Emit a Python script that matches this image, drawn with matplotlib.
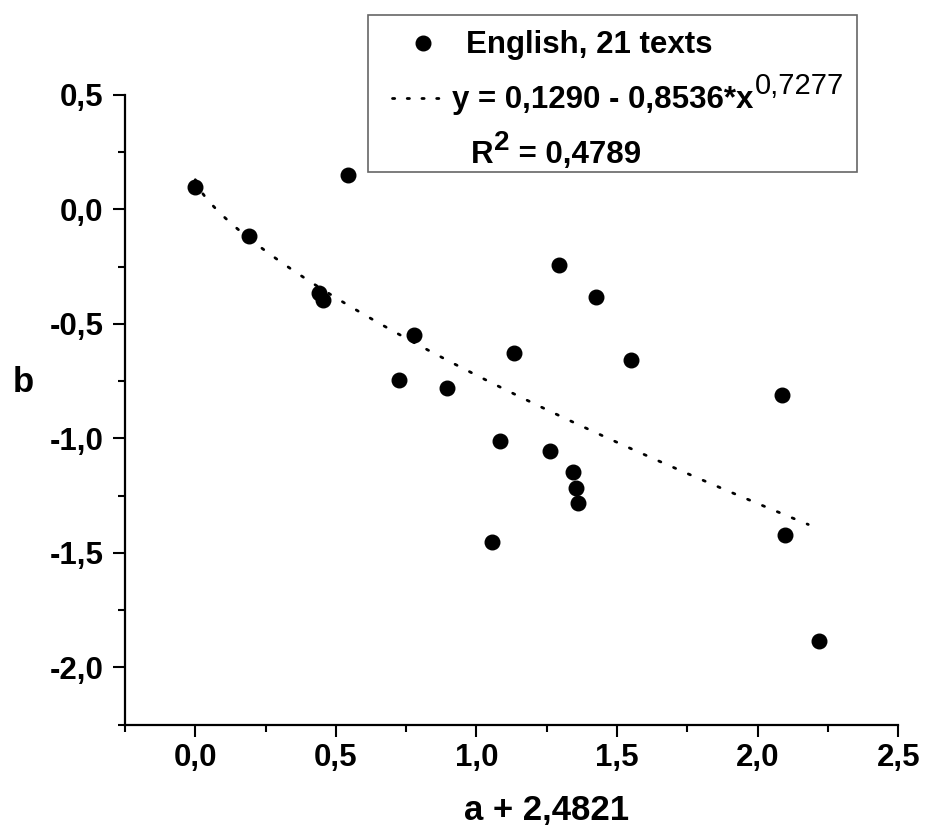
import numpy as np
import matplotlib
matplotlib.use('Agg')
import matplotlib.pyplot as plt
from matplotlib.lines import Line2D
from matplotlib.patches import Rectangle
from matplotlib.text import Annotation
from matplotlib.ticker import MultipleLocator, FuncFormatter

plt.rcParams['font.family'] = ['Liberation Sans', 'DejaVu Sans']
plt.rcParams['font.weight'] = 'bold'

# data (21 texts)
x_vals = [0.000, 0.190, 0.441, 0.454, 0.544, 0.779, 0.725, 0.896, 1.132, 1.293, 1.424,
          1.549, 2.086, 1.082, 1.262, 1.343, 1.353, 1.361, 1.056, 2.098, 2.220]
y_vals = [0.095, -0.115, -0.366, -0.394, 0.150, -0.548, -0.744, -0.781, -0.626, -0.244, -0.382,
          -0.660, -0.813, -1.011, -1.054, -1.149, -1.217, -1.283, -1.451, -1.421, -1.883]

# fitted curve y = c0 - c1 * x^p (as written in the legend)
fit_c0 = 0.1290
fit_c1 = 0.8536
fit_p = 0.7277
fit_x_end = 2.18

series_label = 'English, 21 texts'
fit_main = 'y = 0,1290 - 0,8536*x'
fit_exp = '0,7277'
r2_main = ' = 0,4789'

W, H = 926, 825


def comma_fmt(v, pos):
    return f'{v:.1f}'.replace('.', ',').replace('\u2212', '-')


def fx(px):
    return px / W


def fy(py):
    return 1 - py / H


def chain(text, anchor, dx, dy, **kw):
    # text placed after the right edge of another text, shifted in points
    a = Annotation(text, xy=(1, 0), xycoords=anchor, xytext=(dx, dy),
                   textcoords='offset points', ha='left', va='bottom',
                   annotation_clip=False, zorder=5, **kw)
    fig.add_artist(a)
    return a


fig = plt.figure(figsize=(W / 100, H / 100), dpi=100)
ax = fig.add_axes([0.135, 0.1216, 0.835, 0.7636])

ax.scatter(x_vals, y_vals, s=110, color='black', zorder=3)

xf = np.linspace(0, fit_x_end, 200)
yf = fit_c0 - fit_c1 * xf ** fit_p
ax.plot(xf, yf, color='black', linewidth=2, linestyle=(0, (0.8, 5)), dash_capstyle='round')

ax.set_xlim(-0.25, 2.5)
ax.set_ylim(-2.25, 0.5)

for side in ['top', 'right']:
    ax.spines[side].set_visible(False)
for side in ['left', 'bottom']:
    ax.spines[side].set_linewidth(1.6)

ax.xaxis.set_major_locator(MultipleLocator(0.5))
ax.xaxis.set_minor_locator(MultipleLocator(0.25))
ax.yaxis.set_major_locator(MultipleLocator(0.5))
ax.yaxis.set_minor_locator(MultipleLocator(0.25))
ax.xaxis.set_major_formatter(FuncFormatter(comma_fmt))
ax.yaxis.set_major_formatter(FuncFormatter(comma_fmt))
ax.tick_params(which='major', length=8.5, width=1.5, labelsize=22.5)
ax.tick_params(axis='y', which='major', pad=7)
ax.tick_params(axis='x', which='major', pad=5)
ax.tick_params(which='minor', length=4.8, width=1.5)

ax.set_xlabel('a + 2,4821', fontsize=25, fontweight='bold', va='baseline')
ax.xaxis.set_label_coords(0.545, -0.151)
ax.set_ylabel('b', fontsize=25, fontweight='bold', rotation=0, ha='center', va='baseline')
ax.yaxis.set_label_coords(-0.132, 0.528)

# legend box drawn by hand to match the original layout
fig.add_artist(Rectangle((fx(368), fy(172)), fx(857) - fx(368), fy(15) - fy(172),
                         transform=fig.transFigure, facecolor='white',
                         edgecolor='#666666', linewidth=1.2, zorder=2))
fig.add_artist(Line2D([fx(423)], [fy(43)], transform=fig.transFigure, marker='o',
                      markersize=10.5, color='black', linestyle='none', zorder=5))
fig.text(fx(466), fy(53), series_label, fontsize=22.5, va='baseline', ha='left', zorder=5)
fig.add_artist(Line2D([fx(392), fx(450)], [fy(98), fy(98)], transform=fig.transFigure,
                      color='black', linewidth=2, linestyle=(0, (0.8, 4.5)),
                      dash_capstyle='round', zorder=5))
t_fit = fig.text(fx(452), fy(108), fit_main, fontsize=22.5, va='baseline', ha='left', zorder=5)
chain(fit_exp, t_fit, 1, 11, fontsize=21, fontweight='normal')
t_r = fig.text(fx(471), fy(163), 'R', fontsize=22.5, va='baseline', ha='left', zorder=5)
t_2 = chain('2', t_r, 0.5, 10, fontsize=20)
chain(r2_main, t_2, 0, -10, fontsize=22.5)

fig.savefig('out.png', dpi=100)
